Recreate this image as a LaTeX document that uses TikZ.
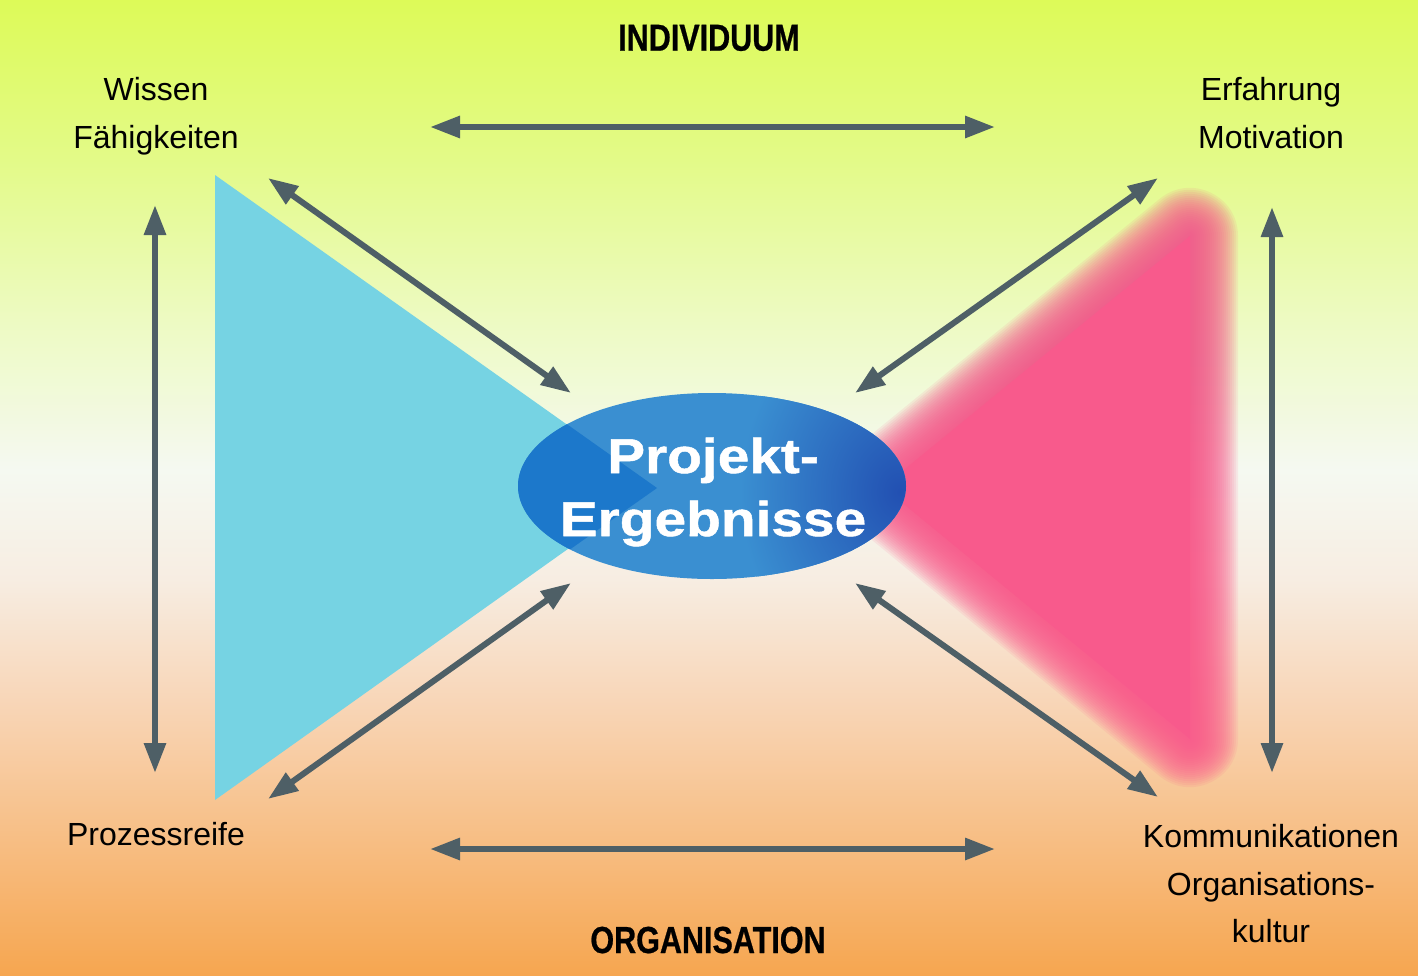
\documentclass[tikz,border=0pt]{standalone}
\usepackage{fontspec}
\setmainfont{Liberation Sans}
\newfontfamily\narrowbf[FakeStretch=0.81,FakeBold=0.6]{Liberation Sans}
\newfontfamily\widebf[FakeStretch=1.16,FakeBold=1.0]{Liberation Sans}
\usetikzlibrary{arrows.meta,shapes.geometric}
\definecolor{bgB0}{HTML}{F6A650}
\definecolor{bgB1}{HTML}{F7BC80}
\definecolor{bgB2}{HTML}{F8D6B8}
\definecolor{bgB3}{HTML}{F7EDE2}
\definecolor{bgM}{HTML}{F5F9F1}
\definecolor{bgT3}{HTML}{EDFAC2}
\definecolor{bgT2}{HTML}{E3FA88}
\definecolor{bgT1}{HTML}{DDFA58}
\definecolor{cyantri}{HTML}{76D3E3}
\definecolor{cyandk}{HTML}{1C78CB}
\definecolor{pinktri}{HTML}{F85A8C}
\definecolor{ellblue}{HTML}{3A8FD1}
\definecolor{ellblk}{HTML}{2250B2}
\definecolor{arrowc}{HTML}{4E5F66}
\pgfdeclareverticalshading{bgshade}{100bp}{color(0bp)=(bgB0); color(25bp)=(bgB0); color(31.4bp)=(bgB1); color(39.1bp)=(bgB2); color(45.3bp)=(bgB3); color(50.9bp)=(bgM); color(58.6bp)=(bgT3); color(66.8bp)=(bgT2); color(75bp)=(bgT1); color(100bp)=(bgT1)}
\tikzset{
  biarrow/.style={draw=arrowc, line width=6pt,
    arrows={Triangle[length=30pt,width=21pt]-Triangle[length=30pt,width=21pt]}},
  lbl/.style={anchor=base, inner sep=0pt, font=\fontsize{32pt}{48pt}\selectfont},
  ttl/.style={anchor=base, inner sep=0pt, font=\narrowbf\bfseries\fontsize{37.7pt}{45pt}\selectfont},
  ctr/.style={anchor=base, inner sep=0pt, text=white, font=\widebf\bfseries\fontsize{49pt}{63pt}\selectfont},
  blurlayer/.style={draw=pinktri, opacity=0.1, line join=round}
}
\begin{document}
\begin{tikzpicture}[x=1pt,y=-1pt]
\useasboundingbox (0,0) rectangle (1418,975);
\shade[shading=bgshade] (0,0) rectangle (1418,975);
% cyan triangle
\fill[cyantri] (215,175) -- (655,487) -- (215,800) -- cycle;
% pink blurred triangle
\foreach \k in {1,...,24}{
  \draw[blurlayer, line width={4pt*\k}]
    (1190,236) -- (883,487) -- (1190,739) -- cycle;
}
\fill[pinktri] (1190,236) -- (883,487) -- (1190,739) -- cycle;
% ellipse
\node[ellipse, fill=ellblue, minimum width=388pt, minimum height=186pt, inner sep=0pt] (pe) at (712,486) {};
\begin{scope}
  \clip (712,486) ellipse [x radius=194, y radius=93];
  \fill[cyandk] (215,175) -- (657,488) -- (215,800) -- cycle;
  \shade[inner color=ellblk, outer color=ellblue] (900,492) ellipse [x radius=160, y radius=190];
\end{scope}
\node[ctr] (pe1) at (713,473) {Projekt-};
\node[ctr] (pe2) at (713,536) {Ergebnisse};
% titles
\node[ttl] (ind) at (709,50.7) {INDIVIDUUM};
\node[ttl] (org) at (708,953) {ORGANISATION};
% labels
\node[lbl] (w1) at (156,100) {Wissen};
\node[lbl] (w2) at (156,148) {Fähigkeiten};
\node[lbl] (e1) at (1271,100) {Erfahrung};
\node[lbl] (e2) at (1271,148) {Motivation};
\node[lbl] (p1) at (156,845) {Prozessreife};
\node[lbl] (k1) at (1271,847) {Kommunikationen};
\node[lbl] (k2) at (1271,895) {Organisations-};
\node[lbl] (k3) at (1271,942) {kultur};
% arrow end points
\coordinate (ta) at (430,127); \coordinate (tb) at (995,127);
\coordinate (ba) at (430,849); \coordinate (bb) at (995,849);
\coordinate (la) at (155,205); \coordinate (lb) at (155,773);
\coordinate (ra) at (1272,207); \coordinate (rb) at (1272,773);
\coordinate (d1a) at (268,178); \coordinate (d1b) at (571,393);
\coordinate (d2a) at (1158,178); \coordinate (d2b) at (855,393);
\coordinate (d3a) at (268,799); \coordinate (d3b) at (571,583);
\coordinate (d4a) at (1158,797); \coordinate (d4b) at (855,583);
\draw[biarrow] (ta) -- (tb);
\draw[biarrow] (ba) -- (bb);
\draw[biarrow] (la) -- (lb);
\draw[biarrow] (ra) -- (rb);
\draw[biarrow] (d1a) -- (d1b);
\draw[biarrow] (d2a) -- (d2b);
\draw[biarrow] (d3a) -- (d3b);
\draw[biarrow] (d4a) -- (d4b);
\end{tikzpicture}
\end{document}
